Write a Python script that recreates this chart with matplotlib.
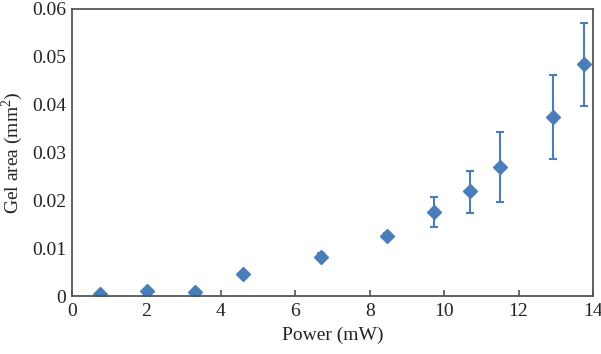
import matplotlib
matplotlib.use('Agg')
import matplotlib.pyplot as plt

power = [0.75, 2.02, 3.3, 4.6, 6.7, 8.47, 9.73, 10.7, 11.5, 12.93, 13.77]
area = [0.0004, 0.0011, 0.0009, 0.0045, 0.0082, 0.0125, 0.0176, 0.0219, 0.027, 0.0374, 0.0484]
err_low = [0, 0, 0, 0, 0.0007, 0.0006, 0.0031, 0.0045, 0.0073, 0.0087, 0.0087]
err_high = [0, 0, 0, 0, 0.0007, 0.0006, 0.0032, 0.0043, 0.0072, 0.0088, 0.0086]

plt.rcParams['font.family'] = ['Liberation Serif', 'DejaVu Serif']
plt.rcParams['mathtext.fontset'] = 'custom'
plt.rcParams['mathtext.rm'] = 'Liberation Serif'
blue = '#4a7ebb'
gray = '#555555'

fig = plt.figure(figsize=(6.01, 3.54), dpi=100)
ax = fig.add_axes([0.1198, 0.1638, 0.8669, 0.8108])

ax.errorbar(power, area, yerr=[err_low, err_high], fmt='D', color=blue,
            markersize=7.5, ecolor=blue, elinewidth=1.5, capsize=3, capthick=1.5)

ax.set_xlim(0, 14)
ax.set_ylim(0, 0.06)
ax.set_xticks(range(0, 15, 2))
ax.set_yticks([0, 0.01, 0.02, 0.03, 0.04, 0.05, 0.06])
ax.set_yticklabels(['0', '0.01', '0.02', '0.03', '0.04', '0.05', '0.06'])
ax.tick_params(axis='x', direction='in', length=4, width=1.2, color=gray,
               labelsize=14, pad=5, labelcolor='#222222')
ax.tick_params(axis='y', length=0, labelsize=14, pad=4, labelcolor='#222222')
for s in ax.spines.values():
    s.set_color(gray)
    s.set_linewidth(1.3)

ax.set_xlabel('Power (mW)', fontsize=14, color='#222222', labelpad=5)
ax.set_ylabel(r'Gel area (mm$^\mathrm{2}$)', fontsize=14, color='#222222', labelpad=5)

fig.savefig('out.png', dpi=100)
